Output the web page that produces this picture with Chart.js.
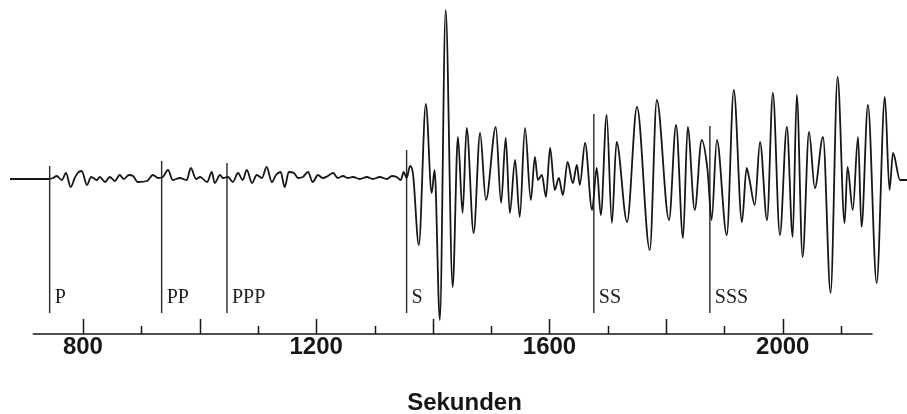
<!DOCTYPE html>
<html>
<head>
<meta charset="utf-8">
<script src="https://cdn.jsdelivr.net/npm/chart.js@4.4.1/dist/chart.umd.min.js"></script>
<style>
  html, body { margin: 0; padding: 0; background: #fff; }
  #wrap { width: 907px; height: 414px; position: relative; }
</style>
</head>
<body>
<div id="wrap"><canvas id="seismo"></canvas></div>
<script>
// ===== SEISMOGRAMM — Laufzeit in Sekunden =====

// trace: time (s) and ground motion (arbitrary units, 0 = rest line)
const traceTimes = [
  675, 709, 740, 749, 755, 764, 771, 779, 786, 791,
  798, 807, 814, 824, 829, 838, 846, 855, 863, 870,
  879, 886, 894, 910, 920, 929, 937, 946, 954, 966,
  978, 985, 994, 1001, 1013, 1021, 1026, 1035, 1040, 1049,
  1057, 1066, 1074, 1081, 1090, 1098, 1107, 1115, 1124, 1131,
  1139, 1146, 1153, 1162, 1169, 1177, 1186, 1194, 1203, 1211,
  1220, 1229, 1237, 1246, 1254, 1263, 1275, 1287, 1297, 1309,
  1321, 1330, 1338, 1345, 1350, 1355, 1361, 1366, 1376, 1388,
  1398, 1403, 1412, 1422, 1434, 1443, 1451, 1458, 1470, 1481,
  1491, 1508, 1517, 1525, 1532, 1541, 1549, 1558, 1568, 1575,
  1580, 1587, 1594, 1601, 1609, 1616, 1623, 1631, 1640, 1647,
  1652, 1661, 1673, 1681, 1688, 1698, 1707, 1715, 1733, 1750,
  1772, 1784, 1805, 1817, 1829, 1837, 1849, 1861, 1871, 1878,
  1887, 1904, 1916, 1930, 1938, 1943, 1952, 1961, 1973, 1983,
  1995, 2007, 2017, 2024, 2034, 2045, 2055, 2069, 2082, 2094,
  2106, 2111, 2120, 2129, 2135, 2146, 2161, 2175, 2183, 2189,
  2201, 2213
];
const traceAmps = [
  0, 0, 0, 1, 3, -1, 6, -8, 1, 6,
  8, -6, 2, -1, 2, -3, 2, -2, 4, 0,
  4, 3, -3, -2, 4, 1, 2, 9, -1, 1,
  -1, 11, 0, 2, -3, 7, -4, 4, 1, 2,
  -3, 6, -1, 9, -4, 4, 1, 12, -3, 4,
  7, -8, 7, 6, 1, 2, 7, -3, 4, 1,
  3, 6, 1, 3, 1, 2, 0, 2, 0, 2,
  0, 3, 2, -1, 7, 1, 13, 5, -66, 75,
  -14, 9, -141, 169, -108, 42, -34, 51, -54, 46,
  -21, 52, -24, 41, -34, 19, -38, 51, -21, 22,
  -1, 4, -18, 31, -11, 1, -16, 17, -4, 14,
  -6, 36, -31, 11, -36, 64, -44, 37, -43, 72,
  -71, 79, -41, 54, -59, 52, -31, 39, 9, -41,
  39, -56, 89, -43, 11, -1, -26, 37, -41, 86,
  -56, 52, -58, 84, -78, 47, -9, 42, -114, 102,
  -44, 12, -31, 42, -48, 74, -104, 82, -11, 26,
  -1, -1
];

// phase onsets
const phaseNames = ['P', 'PP', 'PPP', 'S', 'SS', 'SSS'];
const phaseTimes = [743, 935, 1047, 1355, 1676, 1875];
const phaseTops  = [13, 18, 16, 29, 65, 53];
const phaseBottom = -134;
const phaseLabelLevel = -124;

// time axis
const axisSpan = [714, 2154];
const axisLevel = -155;
const tickValues = [800, 900, 1000, 1100, 1200, 1300, 1400, 1500, 1600, 1700, 1800, 1900, 2000, 2100];
const majorEvery = 200;
const labelEvery = 400;
const axisTitle = 'Sekunden';

const ink = '#161616';

// ── tick marks (pointing up), phase labels and axis title ──
const seismoMarks = {
  id: 'seismoMarks',
  afterDraw(chart) {
    const { ctx, scales: { x, y } } = chart;
    const base = y.getPixelForValue(axisLevel);
    ctx.save();
    ctx.strokeStyle = ink;
    ctx.lineWidth = 1.5;
    tickValues.forEach(v => {
      const px = Math.round(x.getPixelForValue(v)) + 0.5;
      const len = v % majorEvery === 0 ? 15 : 8;
      ctx.beginPath();
      ctx.moveTo(px, base);
      ctx.lineTo(px, base - len);
      ctx.stroke();
    });

    ctx.fillStyle = '#222';
    ctx.font = '20px "Liberation Serif", "Times New Roman", serif';
    ctx.textAlign = 'left';
    ctx.textBaseline = 'alphabetic';
    phaseNames.forEach((name, i) => {
      ctx.fillText(name, x.getPixelForValue(phaseTimes[i]) + 5, y.getPixelForValue(phaseLabelLevel));
    });

    ctx.fillStyle = ink;
    ctx.font = 'bold 24px "Liberation Sans", Arial, sans-serif';
    ctx.textAlign = 'center';
    ctx.fillText(axisTitle, (x.left + x.right) / 2 + 6, 410);
    ctx.restore();
  }
};

const datasets = [
  {
    label: 'Seismogramm',
    data: traceTimes.map((t, i) => ({ x: t, y: traceAmps[i] })),
    borderColor: ink,
    borderWidth: 1.8,
    pointRadius: 0,
    cubicInterpolationMode: 'monotone',
    clip: false
  },
  {
    label: 'Zeitachse',
    data: axisSpan.map(t => ({ x: t, y: axisLevel })),
    borderColor: ink,
    borderWidth: 1.6,
    pointRadius: 0,
    clip: false
  }
];

phaseNames.forEach((name, i) => {
  datasets.push({
    label: name,
    data: [{ x: phaseTimes[i], y: phaseTops[i] }, { x: phaseTimes[i], y: phaseBottom }],
    borderColor: '#2a2a2a',
    borderWidth: 1.4,
    pointRadius: 0,
    clip: false
  });
});

new Chart(document.getElementById('seismo'), {
  type: 'line',
  data: { datasets },
  options: {
    responsive: true,
    maintainAspectRatio: false,
    animation: false,
    layout: { padding: { left: 10, right: 0, top: 0, bottom: 0 } },
    plugins: { legend: { display: false }, tooltip: { enabled: false } },
    scales: {
      x: {
        type: 'linear',
        bounds: 'data',
        position: 'bottom',
        grid: { display: false, drawTicks: false },
        border: { display: false },
        afterBuildTicks: scale => { scale.ticks = tickValues.map(v => ({ value: v })); },
        afterFit: scale => { scale.height = 80; },
        ticks: {
          autoSkip: false,
          maxRotation: 0,
          padding: 1,
          color: ink,
          font: { family: '"Liberation Sans", Arial, sans-serif', size: 24, weight: 'bold', lineHeight: 1 },
          callback: v => (v % labelEvery === 0 ? String(v) : '')
        }
      },
      y: {
        display: false,
        min: axisLevel,
        max: 179
      }
    }
  },
  plugins: [seismoMarks]
});
</script>
</body>
</html>
